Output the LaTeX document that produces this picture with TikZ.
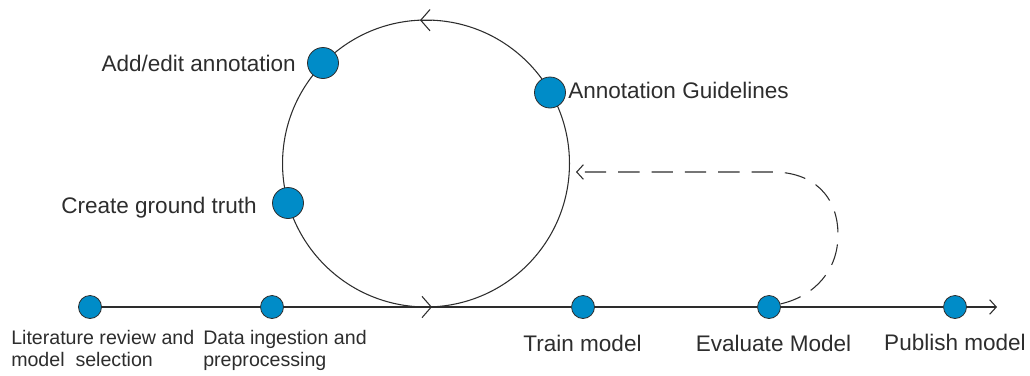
\documentclass[tikz,border=0pt]{standalone}
\usepackage{fontspec}
\setmainfont{Liberation Sans}
\usetikzlibrary{arrows.meta}
\definecolor{dotblue}{RGB}{0,140,200}
\definecolor{ink}{RGB}{45,45,45}
\begin{document}
\begin{tikzpicture}[x=0.75pt,y=-0.75pt,
  line/.style={draw=ink,line width=0.8pt},
  dot/.style={circle,draw=ink,line width=0.6pt,fill=dotblue,minimum size=17.25pt,inner sep=0pt},
  bigdot/.style={dot,minimum size=23.25pt},
  lbl/.style={font=\fontsize{16.9}{19}\selectfont,text=ink,inner sep=0pt},
  sublbl/.style={font=\fontsize{14.7}{16.5}\selectfont,text=ink,inner sep=0pt,align=left},
  barb/.style={-{Straight Barb[length=5pt,width=11pt]}},
  chev/.style={-{Straight Barb[length=7pt,width=16pt]}},
  dashconn/.style={line,dash pattern=on 16pt off 9pt}]
\useasboundingbox (0,0) rectangle (1030,375);

% annotation loop
\draw[line] (426,163.5) circle[radius=107.6pt];
\draw[line,chev] (432,20.2) -- (420,20.2);
\draw[line,chev] (421,307) -- (432,307);

% timeline
\coordinate (tlend) at (997,307);
\coordinate (dashend) at (576,172);
\node[dot] (lit) at (90,307) {};
\node[dot] (data) at (272,307) {};
\node[dot] (train) at (583,307) {};
\node[dot] (eval) at (769,307) {};
\node[dot] (pub) at (955,307) {};
\draw[line] (lit) -- (data) -- (train) -- (eval) -- (pub);
\draw[line,barb] (pub) -- (tlend);

% loop points
\node[bigdot] (add) at (323,63) {};
\node[bigdot] (guide) at (550,92.5) {};
\node[bigdot] (ground) at (288,203) {};

% feedback connector
\draw[dashconn,barb] (eval.15) .. controls (815,296) and (838,270) .. (838,235)
  .. controls (838,195) and (812,172) .. (773,172) -- (dashend);

% labels
\node[lbl,anchor=base east] (addl) at (296,71) {Add/edit annotation};
\node[lbl,anchor=base west] (guidel) at (568,98) {Annotation Guidelines};
\node[lbl,anchor=base east] (groundl) at (257,213) {Create ground truth};
\node[sublbl,anchor=north west] (litl) at (11,330) {Literature review and\\model\ \ selection};
\node[sublbl,anchor=north west] (datal) at (203,330) {Data ingestion and\\preprocessing};
\node[lbl,anchor=base] (trainl) at (582.5,351) {Train model};
\node[lbl,anchor=base] (evall) at (773.5,351) {Evaluate Model};
\node[lbl,anchor=base] (publ) at (955,350) {Publish model};
\end{tikzpicture}
\end{document}
